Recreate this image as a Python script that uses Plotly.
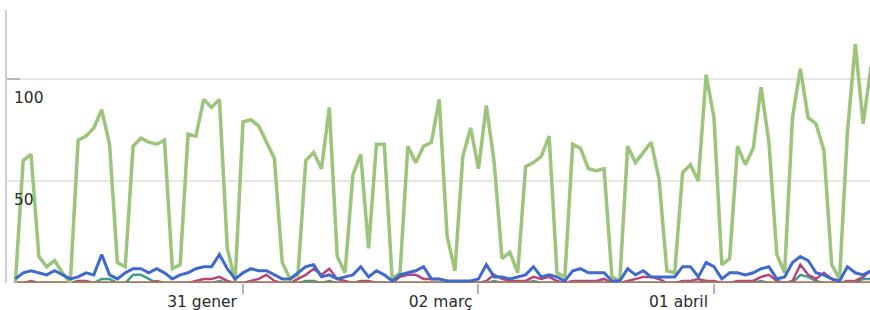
import pandas as pd
import plotly.graph_objects as go

# Daily series, 2 Jan 2011 onwards (110 days)
start_date = "2011-01-02"
n_days = 110
dates = pd.date_range(start_date, periods=n_days, freq="D")

green = [0, 60, 63, 13, 8, 11, 5, 0, 70, 72,
         76, 85, 68, 10, 8, 67, 71, 69, 68, 70,
         7, 9, 73, 72, 90, 86, 90, 17, 1, 79,
         80, 77, 69, 61, 10, 2, 4, 60, 64, 56,
         86, 13, 5, 53, 63, 17, 68, 68, 2, 5,
         67, 59, 67, 69, 90, 23, 6, 62, 76, 56,
         87, 59, 12, 15, 5, 57, 59, 62, 72, 5,
         3, 68, 66, 56, 55, 56, 3, 1, 67, 59,
         64, 69, 51, 6, 5, 54, 58, 50, 102, 81,
         9, 12, 67, 58, 66, 96, 69, 14, 5, 81,
         105, 81, 78, 65, 9, 2, 74, 117, 78, 106]

blue = [2, 5, 6, 5, 4, 6, 4, 2, 3, 5,
        4, 14, 4, 2, 5, 7, 7, 5, 7, 5,
        2, 4, 5, 7, 8, 8, 14, 7, 2, 5,
        7, 6, 6, 4, 2, 2, 5, 8, 9, 3,
        4, 2, 3, 4, 8, 3, 6, 4, 1, 4,
        5, 6, 8, 2, 2, 1, 1, 1, 1, 2,
        9, 3, 3, 2, 3, 4, 8, 3, 4, 3,
        1, 6, 7, 5, 5, 5, 1, 1, 7, 4,
        6, 3, 3, 3, 3, 8, 8, 3, 10, 8,
        2, 5, 5, 4, 5, 7, 8, 2, 3, 10,
        13, 11, 5, 4, 2, 1, 8, 5, 4, 6]

pink = [0, 0, 1, 0, 0, 0, 0, 0, 1, 1,
        0, 0, 0, 0, 0, 0, 0, 0, 1, 0,
        0, 0, 0, 1, 2, 2, 3, 1, 0, 0,
        1, 2, 4, 1, 0, 0, 2, 4, 7, 4,
        7, 2, 1, 0, 1, 1, 0, 0, 0, 3,
        4, 4, 2, 2, 2, 1, 0, 0, 0, 0,
        1, 4, 2, 1, 1, 1, 3, 2, 3, 1,
        0, 1, 1, 1, 1, 2, 0, 0, 1, 2,
        3, 3, 2, 0, 0, 1, 1, 2, 1, 1,
        0, 0, 1, 1, 1, 3, 4, 1, 0, 1,
        9, 4, 2, 5, 2, 0, 1, 1, 3, 6]

teal = [0, 0, 0, 0, 0, 0, 0, 0, 0, 0,
        0, 2, 2, 0, 0, 4, 4, 2, 0, 0,
        0, 0, 0, 0, 0, 0, 1, 0, 0, 0,
        0, 0, 0, 0, 0, 0, 0, 1, 1, 0,
        1, 0, 0, 0, 0, 0, 0, 0, 0, 0,
        0, 0, 0, 0, 0, 0, 0, 0, 0, 0,
        0, 1, 0, 0, 0, 0, 1, 0, 0, 0,
        0, 0, 0, 0, 0, 0, 0, 0, 0, 0,
        0, 0, 0, 0, 0, 0, 0, 0, 1, 0,
        0, 0, 0, 0, 0, 1, 0, 0, 0, 0,
        4, 3, 1, 0, 0, 0, 0, 0, 2, 2]

brown = [0] * n_days

x_tick_vals = ["2011-01-31", "2011-03-02", "2011-04-01"]
x_tick_text = ["31 gener", "02 març", "01 abril"]
y_label_vals = [100, 50]
y_label_text = ["100", "50"]

fig = go.Figure()
series = [
    (teal, "#3f9d8a", 2.5),
    (pink, "#b4487c", 2.5),
    (brown, "#a47e5c", 3.5),
    (green, "#9cc47a", 3.5),
    (blue, "#3d6acb", 3),
]
for vals, col, w in series:
    fig.add_trace(go.Scatter(x=dates, y=vals, mode="lines",
                             line=dict(color=col, width=w),
                             hoverinfo="skip", showlegend=False))

for v, t in zip(y_label_vals, y_label_text):
    fig.add_annotation(x=0, xref="paper", y=v, yref="y", text=t,
                       showarrow=False, xanchor="left", yanchor="middle",
                       xshift=5, yshift=-19,
                       font=dict(family="DejaVu Sans", size=15.5, color="#2a2a2a"))

fig.update_layout(
    width=870, height=310,
    margin=dict(l=7, r=0, t=10, b=27, autoexpand=False),
    paper_bgcolor="white", plot_bgcolor="white",
    showlegend=False,
    xaxis=dict(
        type="date", automargin=False,
        range=["2010-12-31 22:30", "2011-04-20 21:00"],
        tickmode="array", tickvals=x_tick_vals, ticktext=x_tick_text,
        ticks="outside", ticklen=10, tickwidth=2, tickcolor="#b5b5b5",
        ticklabelposition="outside left",
        ticklabelshift=-5, ticklabelstandoff=4,
        showgrid=False, zeroline=False, showline=False,
        tickfont=dict(family="DejaVu Sans", size=15.5, color="#2a2a2a"),
    ),
    yaxis=dict(
        range=[0, 133.8], automargin=False,
        tickmode="array", tickvals=[100],
        ticks="inside", ticklen=13, tickwidth=2, tickcolor="#b8b8b8",
        showticklabels=False,
        showgrid=True, gridcolor="#e6e6e6", gridwidth=2,
        minor=dict(tickmode="array", tickvals=[50], showgrid=True,
                   gridcolor="#e6e6e6", gridwidth=2, ticks=""),
        zeroline=False,
        showline=True, linecolor="#cfcfcf", linewidth=1.5,
    ),
)

fig.write_html(
    "out.html",
    config={"displayModeBar": False},
    post_script="document.body.style.margin='0';document.body.style.overflow='hidden';",
)
